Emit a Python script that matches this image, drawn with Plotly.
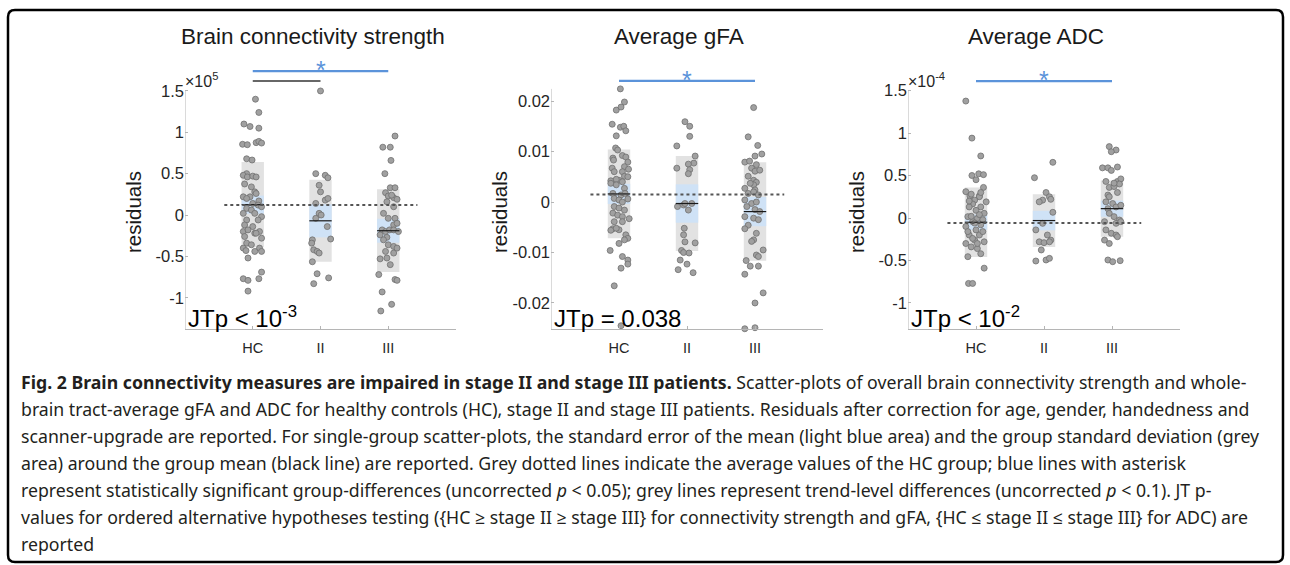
import plotly.graph_objects as go

W, H = 1290, 565

groups = ["HC", "II", "III"]
titles = ["Brain connectivity strength", "Average gFA", "Average ADC"]
jt_text = ["JTp < 10<sup>-3</sup>", "JTp = 0.038", "JTp < 10<sup>-2</sup>"]
exp_text = ["×10<sup>5</sup>", "", "×10<sup>-4</sup>"]

# connectivity strength residuals (x1e5) as (jitter, value)
cs_hc = [(0.04, 1.40), (0.09, 1.24), (-0.13, 1.10), (-0.04, 1.07), (0.09, 1.05), (-0.15, 0.855),
         (-0.08, 0.85), (0.05, 0.875), (0.09, 0.89), (0.13, 0.87), (-0.09, 0.68), (-0.01, 0.665),
         (-0.09, 0.50), (-0.14, 0.48), (-0.08, 0.46), (0.0, 0.47), (0.05, 0.46), (-0.12, 0.375),
         (-0.02, 0.34), (0.03, 0.28), (0.05, 0.26), (-0.14, 0.22), (-0.04, 0.22), (-0.09, 0.20),
         (0.09, 0.17), (0.0, 0.14), (0.08, 0.12), (0.13, 0.10), (-0.09, 0.08), (-0.02, 0.06),
         (-0.14, 0.02), (0.03, 0.02), (0.13, -0.02), (-0.09, -0.06), (0.08, -0.06), (-0.12, -0.12),
         (0.0, -0.14), (-0.14, -0.20), (-0.07, -0.18), (0.10, -0.20), (0.03, -0.22), (-0.12, -0.26),
         (0.05, -0.22), (0.13, -0.28), (-0.09, -0.34), (-0.02, -0.36), (-0.14, -0.40), (0.10, -0.40),
         (0.03, -0.44), (0.13, -0.44), (-0.10, -0.43), (-0.07, -0.52), (0.13, -0.69), (-0.14, -0.77),
         (-0.07, -0.79), (0.09, -0.77), (-0.07, -0.92)]
cs_ii = [(0.0, 1.50), (-0.07, 0.50), (0.07, 0.48), (0.11, 0.45), (-0.02, 0.36), (0.0, 0.28),
         (0.07, 0.18), (0.11, 0.20), (-0.07, 0.14), (-0.02, 0.02), (0.01, 0.0), (-0.07, -0.04),
         (0.15, -0.29), (-0.12, -0.30), (-0.13, -0.34), (0.10, -0.14), (-0.10, -0.42), (-0.05, -0.44),
         (-0.02, -0.46), (-0.12, -0.565), (-0.05, -0.71), (0.12, -0.76), (-0.10, -0.83)]
cs_iii = [(0.10, 0.955), (-0.08, 0.82), (0.03, 0.82), (0.04, 0.66), (-0.05, 0.50), (0.03, 0.33),
          (0.10, 0.33), (-0.04, 0.27), (0.0, 0.23), (0.08, 0.21), (0.13, 0.19), (0.05, 0.24),
          (-0.02, 0.16), (0.08, 0.10), (-0.07, 0.02), (0.0, -0.04), (0.10, -0.04), (0.08, -0.12),
          (0.13, -0.10), (-0.09, -0.18), (-0.04, -0.20), (0.02, -0.18), (0.08, -0.18), (0.15, -0.20),
          (-0.12, -0.24), (-0.02, -0.27), (-0.07, -0.30), (0.0, -0.36), (0.08, -0.38), (0.13, -0.40),
          (-0.04, -0.44), (0.08, -0.46), (-0.12, -0.53), (-0.02, -0.52), (0.03, -0.60), (-0.14, -0.72),
          (0.10, -0.78), (0.13, -0.79), (-0.09, -0.93), (0.05, -1.08), (-0.11, -1.16), (0.10, -1.39)]
cs_mean = [0.125, -0.07, -0.19]
cs_sd = [0.515, 0.495, 0.50]
cs_sem = [0.11, 0.20, 0.145]
cs_ref = 0.12

# tract-average gFA residuals
gfa_hc = [(0.02, 0.0224), (-0.04, 0.0182), (0.03, 0.0188), (0.08, 0.0198), (-0.10, 0.0154), (0.02, 0.0148),
          (0.07, 0.0150), (0.10, 0.0141), (-0.04, 0.0131), (-0.05, 0.0107), (-0.02, 0.0103), (-0.09, 0.0087),
          (0.05, 0.0092), (0.10, 0.0089), (-0.08, 0.0083), (0.13, 0.0079), (-0.10, 0.0067), (0.08, 0.0070),
          (0.14, 0.0065), (-0.07, 0.0060), (0.05, 0.0060), (0.08, 0.0051), (0.13, 0.0050), (-0.12, 0.0042),
          (0.0, 0.0043), (-0.04, 0.0045), (-0.12, 0.0037), (-0.04, 0.0034), (0.05, 0.0040), (0.08, 0.0027),
          (-0.09, 0.0017), (0.03, 0.0014), (0.09, 0.0017), (-0.07, 0.0007), (0.0, 0.0004), (0.05, 0.0),
          (0.13, 0.0006), (-0.07, -0.0009), (0.0, -0.0012), (0.08, -0.0016), (-0.09, -0.0022), (-0.02, -0.0026),
          (0.05, -0.0029), (0.15, -0.0033), (-0.07, -0.0039), (0.05, -0.0039), (-0.09, -0.0053), (0.0, -0.0055),
          (-0.12, -0.0056), (-0.04, -0.0052), (0.10, -0.0065), (0.13, -0.0072), (0.08, -0.0075), (0.0, -0.0082),
          (-0.13, -0.0096), (0.05, -0.0108), (0.13, -0.0115), (0.13, -0.0123), (0.03, -0.0131), (-0.07, -0.0166),
          (0.03, -0.0245)]
gfa_ii = [(-0.03, 0.0159), (0.04, 0.0150), (0.04, 0.0130), (-0.15, 0.0111), (0.12, 0.0091), (0.10, 0.0077),
          (0.02, 0.0075), (-0.15, 0.0067), (0.04, 0.0064), (0.02, 0.0056), (-0.14, -0.0009), (-0.05, -0.0006),
          (0.07, -0.0003), (-0.03, -0.0003), (0.02, -0.0016), (-0.04, -0.0052), (-0.05, -0.0065), (-0.03, -0.0079),
          (0.12, -0.0081), (-0.08, -0.0096), (-0.05, -0.0100), (0.03, -0.0101), (-0.10, -0.0115), (0.0, -0.0123),
          (-0.13, -0.0134), (0.09, -0.0140)]
gfa_iii = [(-0.02, 0.0187), (-0.10, 0.0129), (0.04, 0.0112), (0.0, 0.0091), (0.10, 0.0095), (-0.15, 0.0079),
           (-0.08, 0.0081), (0.02, 0.0074), (-0.05, 0.0067), (0.0, 0.0061), (0.07, 0.0063), (-0.10, 0.0051),
           (-0.02, 0.0043), (0.02, 0.0039), (-0.02, 0.0034), (0.0, 0.0024), (-0.07, 0.0037), (-0.15, 0.0027),
           (-0.10, 0.0017), (-0.02, 0.0020), (0.05, 0.0014), (-0.15, 0.0004), (-0.05, -0.0003), (0.02, 0.0),
           (-0.12, -0.0009), (0.0, -0.0015), (0.07, -0.0019), (-0.15, -0.0029), (-0.02, -0.0032), (0.05, -0.0035),
           (-0.10, -0.0046), (-0.15, -0.0053), (0.02, -0.0062), (-0.02, -0.0075), (-0.05, -0.0078), (0.12, -0.0095),
           (0.02, -0.0105), (0.05, -0.0108), (-0.13, -0.0116), (-0.07, -0.0127), (0.05, -0.0127), (-0.15, -0.0143),
           (0.12, -0.0180), (0.0, -0.0200), (-0.15, -0.0251), (0.0, -0.0249)]
gfa_mean = [0.0016, -0.0003, -0.0019]
gfa_sd = [0.0088, 0.0094, 0.00975]
gfa_sem = [0.0020, 0.0038, 0.0029]
gfa_ref = 0.0015

# tract-average ADC residuals (x1e-4)
adc_hc = [(-0.15, 1.376), (-0.06, 0.94), (0.07, 0.73), (-0.06, 0.50), (0.04, 0.52), (0.11, 0.51),
          (0.0, 0.45), (0.11, 0.36), (-0.09, 0.26), (0.05, 0.26), (-0.15, 0.31), (-0.07, 0.28),
          (0.05, 0.25), (-0.02, 0.21), (0.15, 0.19), (-0.05, 0.165), (-0.10, 0.13), (0.07, 0.13),
          (0.0, 0.09), (0.12, 0.055), (-0.12, 0.016), (0.02, -0.004), (-0.05, -0.043), (-0.15, -0.10),
          (0.07, -0.08), (0.0, -0.14), (-0.10, -0.20), (0.05, -0.20), (-0.02, -0.26), (0.12, -0.28),
          (-0.15, -0.30), (-0.07, -0.34), (0.02, -0.36), (0.07, -0.42), (-0.12, -0.455), (0.12, -0.59),
          (-0.11, -0.77), (-0.05, -0.77), (-0.07, 0.02), (0.10, -0.02), (-0.02, -0.06), (0.05, 0.04),
          (-0.12, -0.16), (0.10, -0.16), (-0.05, -0.24), (0.02, -0.30), (-0.10, 0.20), (0.07, 0.30)]
adc_ii = [(0.13, 0.655), (-0.14, 0.474), (0.03, 0.30), (0.08, 0.25), (0.10, 0.22), (-0.02, 0.21),
          (-0.07, 0.19), (0.13, 0.067), (-0.02, -0.063), (-0.12, -0.14), (0.05, -0.20), (0.10, -0.26),
          (-0.07, -0.28), (0.0, -0.29), (0.08, -0.28), (-0.04, -0.376), (0.03, -0.494), (0.08, -0.475),
          (-0.12, -0.506)]
adc_iii = [(-0.04, 0.84), (0.06, 0.80), (-0.01, 0.78), (-0.14, 0.59), (-0.06, 0.59), (-0.01, 0.56),
           (0.08, 0.60), (-0.09, 0.43), (0.08, 0.43), (0.13, 0.46), (0.11, 0.40), (-0.04, 0.36),
           (0.03, 0.37), (-0.06, 0.27), (0.08, 0.30), (0.03, 0.41), (-0.04, 0.25), (-0.09, 0.19),
           (0.01, 0.17), (0.06, 0.13), (-0.06, 0.11), (0.13, 0.15), (-0.04, 0.055), (0.03, 0.016),
           (0.11, -0.024), (-0.11, -0.043), (0.06, -0.063), (0.13, -0.043), (-0.09, -0.14), (-0.01, -0.18),
           (0.06, -0.20), (-0.11, -0.26), (-0.04, -0.30), (0.08, -0.22), (-0.06, -0.494), (0.01, -0.514),
           (0.12, -0.502)]
adc_mean = [-0.05, -0.03, 0.11]
adc_sd = [0.41, 0.31, 0.33]
adc_sem = [0.09, 0.115, 0.095]
adc_ref = -0.06

# significance bars: (from group, to group, height, kind)
cs_sig = [(1, 3, 1.74, "sig"), (1, 2, 1.62, "trend")]
gfa_sig = [(1, 3, 0.0240, "sig")]
adc_sig = [(1, 3, 1.61, "sig")]

panels = [
    dict(points=[cs_hc, cs_ii, cs_iii], mean=cs_mean, sd=cs_sd, sem=cs_sem, ref=cs_ref, sig=cs_sig,
         yticks=[-1, -0.5, 0, 0.5, 1, 1.5], yticktext=["-1", "-0.5", "0", "0.5", "1", "1.5"],
         yrange=[-1.378, 1.874], ytop=1.5, xdom=(185, 456)),
    dict(points=[gfa_hc, gfa_ii, gfa_iii], mean=gfa_mean, sd=gfa_sd, sem=gfa_sem, ref=gfa_ref, sig=gfa_sig,
         yticks=[-0.02, -0.01, 0, 0.01, 0.02], yticktext=["-0.02", "-0.01", "0", "0.01", "0.02"],
         yrange=[-0.02515, 0.02812], ytop=0.0224, xdom=(551, 823)),
    dict(points=[adc_hc, adc_ii, adc_iii], mean=adc_mean, sd=adc_sd, sem=adc_sem, ref=adc_ref, sig=adc_sig,
         yticks=[-1, -0.5, 0, 0.5, 1, 1.5], yticktext=["-1", "-0.5", "0", "0.5", "1", "1.5"],
         yrange=[-1.306, 1.859], ytop=1.5, xdom=(908, 1180)),
]

caption = [
    "<b>Fig. 2 Brain connectivity measures are impaired in stage II and stage III patients.</b> Scatter-plots of overall brain connectivity strength and whole-",
    "brain tract-average gFA and ADC for healthy controls (HC), stage II and stage III patients. Residuals after correction for age, gender, handedness and",
    "scanner-upgrade are reported. For single-group scatter-plots, the standard error of the mean (light blue area) and the group standard deviation (grey",
    "area) around the group mean (black line) are reported. Grey dotted lines indicate the average values of the HC group; blue lines with asterisk",
    "represent statistically significant group-differences (uncorrected <i>p</i> < 0.05); grey lines represent trend-level differences (uncorrected <i>p</i> < 0.1). JT p-",
    "values for ordered alternative hypotheses testing ({HC ≥ stage II ≥ stage III} for connectivity strength and gFA, {HC ≤ stage II ≤ stage III} for ADC) are",
    "reported",
]


def px(x):
    return x / W


def py(y):
    return 1 - y / H


AX_FONT = "Liberation Sans, Arial, sans-serif"
CAP_FONT = "Noto Sans, Open Sans, sans-serif"
BLUE = "#5b93da"
HALF = 0.165

fig = go.Figure()
shapes = []
annotations = []
y_dom = [py(329), py(60)]

for i, p in enumerate(panels):
    sfx = "" if i == 0 else str(i + 1)
    xa, ya = "x" + sfx, "y" + sfx

    for g, pts in enumerate(p["points"]):
        fig.add_trace(go.Scatter(
            x=[g + 1 + dx for dx, _ in pts],
            y=[v for _, v in pts],
            mode="markers",
            xaxis=xa, yaxis=ya,
            marker=dict(size=6, color="#a0a0a0", line=dict(color="#707070", width=0.8)),
            cliponaxis=False,
            showlegend=False,
        ))
        m, sd, se = p["mean"][g], p["sd"][g], p["sem"][g]
        shapes.append(dict(type="rect", xref=xa, yref=ya, x0=g + 1 - HALF, x1=g + 1 + HALF,
                           y0=m - sd, y1=m + sd, fillcolor="#e2e2e2", line_width=0, layer="below"))
        shapes.append(dict(type="rect", xref=xa, yref=ya, x0=g + 1 - HALF, x1=g + 1 + HALF,
                           y0=m - se, y1=m + se, fillcolor="#cfe2f6", line_width=0, layer="below"))
        shapes.append(dict(type="line", xref=xa, yref=ya, x0=g + 1 - HALF, x1=g + 1 + HALF,
                           y0=m, y1=m, line=dict(color="#1a1a1a", width=1.2), layer="above"))

    # HC reference
    shapes.append(dict(type="line", xref=xa, yref=ya, x0=1 - 0.42, x1=3 + 0.43, y0=p["ref"], y1=p["ref"],
                       line=dict(color="#555555", width=2, dash="dot"), layer="above"))
    # y axis line (stops at the upper limit)
    shapes.append(dict(type="line", xref=xa, yref=ya, x0=0, x1=0, y0=p["yrange"][0], y1=p["ytop"],
                       line=dict(color="#b5b5b5", width=1)))

    for g1, g2, yb, kind in p["sig"]:
        col = BLUE if kind == "sig" else "#676767"
        shapes.append(dict(type="line", xref=xa, yref=ya, x0=g1, x1=g2, y0=yb, y1=yb,
                           line=dict(color=col, width=2.2)))
        if kind == "sig":
            annotations.append(dict(x=(g1 + g2) / 2, y=yb, xref=xa, yref=ya, text="*", showarrow=False,
                                    xanchor="center", yanchor="middle", yshift=1,
                                    font=dict(family=AX_FONT, size=25, color=BLUE)))

    x0, x1 = p["xdom"]
    fig.update_layout(**{
        "xaxis" + sfx: dict(domain=[px(x0), px(x1)], range=[0, 4], anchor=ya,
                            tickvals=[1, 2, 3], ticktext=groups, ticks="inside", ticklen=3,
                            tickcolor="#b5b5b5", showline=True, linecolor="#b5b5b5", linewidth=1,
                            showgrid=False, zeroline=False, ticklabelstandoff=6,
                            tickfont=dict(family=AX_FONT, size=14.5, color="#262626")),
        "yaxis" + sfx: dict(domain=y_dom, range=p["yrange"], anchor=xa,
                            tickvals=p["yticks"], ticktext=p["yticktext"], ticks="inside", ticklen=3,
                            tickcolor="#b5b5b5", showline=False, showgrid=False, zeroline=False,
                            tickfont=dict(family=AX_FONT, size=16.5, color="#262626")),
    })

    cx = (x0 + x1) / 2 - 8
    annotations.append(dict(x=px(cx), y=py(36), xref="paper", yref="paper", text=titles[i],
                            xanchor="center", yanchor="middle", showarrow=False,
                            font=dict(family=AX_FONT, size=22.5, color="#1a1a1a")))
    annotations.append(dict(x=px(x0 - 52), y=py(212), xref="paper", yref="paper", text="residuals",
                            textangle=-90, xanchor="center", yanchor="middle", showarrow=False,
                            font=dict(family=AX_FONT, size=20.5, color="#1a1a1a")))
    annotations.append(dict(x=px(x0 + 1), y=py(334), xref="paper", yref="paper", text=jt_text[i],
                            xanchor="left", yanchor="bottom", showarrow=False,
                            font=dict(family=AX_FONT, size=24, color="#000000")))
    if exp_text[i]:
        annotations.append(dict(x=px(x0 - 2), y=py(92), xref="paper", yref="paper", text=exp_text[i],
                                xanchor="left", yanchor="bottom", showarrow=False,
                                font=dict(family=AX_FONT, size=16, color="#262626")))

# caption
for k, line in enumerate(caption):
    annotations.append(dict(x=px(19), y=py(382 + 27 * k), xref="paper", yref="paper", text=line,
                            xanchor="left", yanchor="middle", showarrow=False,
                            font=dict(family=CAP_FONT, size=17.7, color="#231f20")))

# rounded frame
l, t, r, b, rad = px(8), py(10), px(1283), py(562), 7
rx, ry = rad / W, rad / H
frame = (f"M {l + rx},{t} L {r - rx},{t} Q {r},{t} {r},{t - ry} L {r},{b + ry} Q {r},{b} {r - rx},{b} "
         f"L {l + rx},{b} Q {l},{b} {l},{b + ry} L {l},{t - ry} Q {l},{t} {l + rx},{t} Z")
shapes.append(dict(type="path", xref="paper", yref="paper", path=frame,
                   line=dict(color="#000000", width=2.5)))

fig.update_layout(
    width=W, height=H,
    margin=dict(l=0, r=0, t=0, b=0),
    paper_bgcolor="white", plot_bgcolor="white",
    shapes=shapes, annotations=annotations,
    showlegend=False,
)

# the page's default body margin would push the figure 8px off
fig.write_html("out.html", config={"displayModeBar": False},
               post_script="document.body.style.margin='0';")
